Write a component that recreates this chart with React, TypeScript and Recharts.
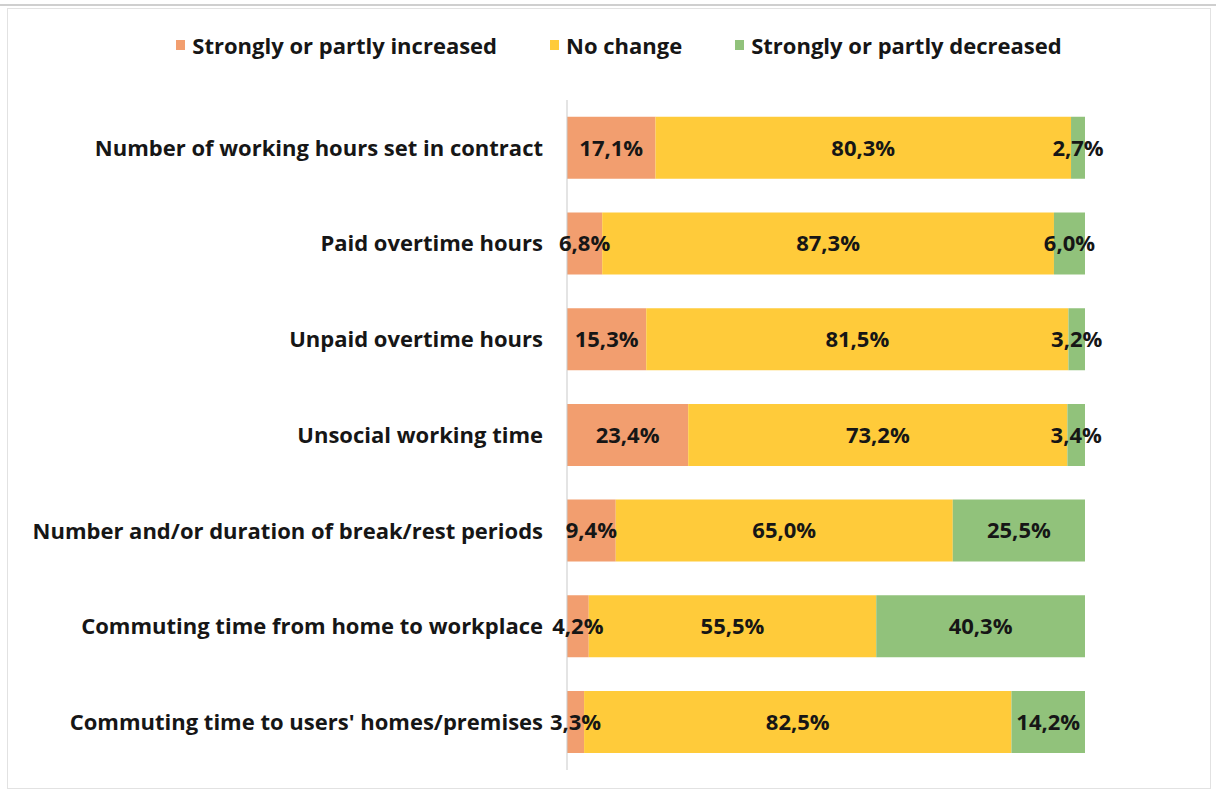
import React from 'react';
import { BarChart, Bar, XAxis, YAxis, LabelList, Legend } from 'recharts';

const categories = [
  'Number of working hours set in contract',
  'Paid overtime hours',
  'Unpaid overtime hours',
  'Unsocial working time',
  'Number and/or duration of break/rest periods',
  'Commuting time from home to workplace',
  "Commuting time to users' homes/premises",
];
const increased = [17.1, 6.8, 15.3, 23.4, 9.4, 4.2, 3.3];
const noChange = [80.3, 87.3, 81.5, 73.2, 65.0, 55.5, 82.5];
const decreased = [2.7, 6.0, 3.2, 3.4, 25.5, 40.3, 14.2];
const seriesNames = ['Strongly or partly increased', 'No change', 'Strongly or partly decreased'];
const seriesKeys = ['inc', 'nc', 'dec'];
const colors = ['#F29E6F', '#FFCB3A', '#91C27B'];

const data = categories.map((name, i) => ({
  name,
  inc: increased[i],
  nc: noChange[i],
  dec: decreased[i],
}));

const FONT = "'Open Sans', sans-serif";
const fmt = (v: any) => `${Number(v).toFixed(1).replace('.', ',')}%`;

const LegendContent = () => (
  <div style={{ display: 'flex', justifyContent: 'center', alignItems: 'center', fontFamily: FONT, fontWeight: 700, fontSize: 22, color: '#161616', paddingLeft: 22 }}>
    {seriesNames.map((n, i) => (
      <div key={n} style={{ display: 'flex', alignItems: 'center', marginRight: i < 2 ? 53 : 0 }}>
        <span style={{ display: 'inline-block', width: 9, height: 10, background: colors[i], marginRight: 7 }} />
        <span>{n}</span>
      </div>
    ))}
  </div>
);

export default function App() {
  return (
    <div style={{ position: 'absolute', left: 0, top: 0, width: 1216, height: 793, background: '#fff' }}>
      <div style={{ position: 'absolute', left: 0, top: 4, width: 1216, height: 2, background: '#cfcfcf' }} />
      <div style={{ position: 'absolute', left: 7, top: 8, width: 1202, height: 779, border: '1px solid #e2e2e2' }} />
      <div style={{ position: 'absolute', left: 0, top: 0 }}>
        <BarChart
          width={1216}
          height={793}
          data={data}
          layout="vertical"
          stackOffset="expand"
          barCategoryGap="17.5%"
          margin={{ top: 100, right: 131, bottom: 23, left: 0 }}
        >
          <XAxis type="number" hide domain={[0, 1]} />
          <YAxis
            type="category"
            dataKey="name"
            width={567}
            tickSize={0}
            tickMargin={24}
            axisLine={{ stroke: '#c9c9c9', strokeWidth: 1 }}
            tick={{ fill: '#161616', fontFamily: FONT, fontWeight: 700, fontSize: 22 }}
          />
          <Legend
            layout="horizontal"
            verticalAlign="middle"
            align="center"
            content={<LegendContent />}
            wrapperStyle={{ position: 'absolute', top: 30, left: 0, width: 1216 }}
          />
          {seriesKeys.map((k, i) => (
            <Bar key={k} dataKey={k} name={seriesNames[i]} stackId="a" fill={colors[i]} isAnimationActive={false}>
              <LabelList
                dataKey={k}
                position="center"
                formatter={fmt}
                style={{ fill: '#161616', fontFamily: FONT, fontWeight: 700, fontSize: 22 }}
              />
            </Bar>
          ))}
        </BarChart>
      </div>
    </div>
  );
}
